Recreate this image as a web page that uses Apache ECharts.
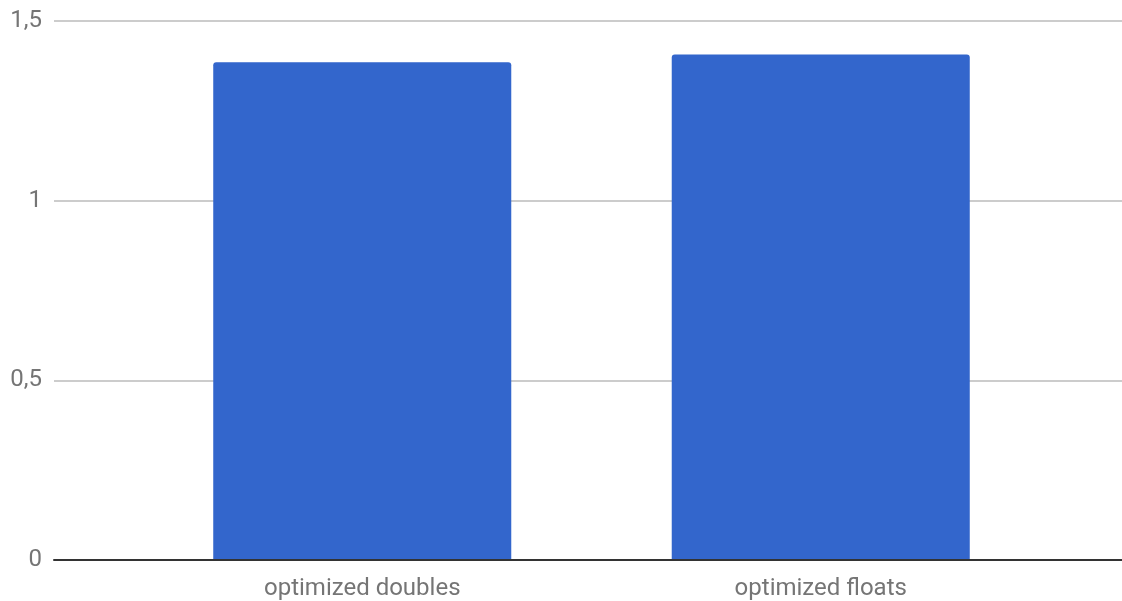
<!DOCTYPE html>
<html>
<head>
<meta charset="utf-8">
<script src="https://cdn.jsdelivr.net/npm/echarts@6/dist/echarts.min.js"></script>
<style>
  html, body { margin: 0; padding: 0; background: #ffffff; }
  #chart { width: 1122px; height: 601px; }
</style>
</head>
<body>
<div id="chart"></div>
<script>
// Benchmark results
const categories = ['optimized doubles', 'optimized floats'];
const values = [1.385, 1.407];
const yTicks = { min: 0, max: 1.5, interval: 0.5 };

const textColor = '#757575';
const fontFamily = 'Roboto, "Noto Sans", sans-serif';

const chart = echarts.init(document.getElementById('chart'), null, { renderer: 'canvas' });

chart.setOption({
  animation: false,
  backgroundColor: '#ffffff',
  grid: [
    // full-width frame: gridlines, value labels, baseline
    { left: 54, right: 0, top: 21, bottom: 41, containLabel: false },
    // inner band holding the bars and category labels
    { left: 133, right: 72, top: 21, bottom: 41, containLabel: false }
  ],
  xAxis: [
    {
      type: 'category', gridIndex: 0, data: [''],
      axisLine: { show: true, lineStyle: { color: '#333333', width: 2 } },
      axisTick: { show: false }, axisLabel: { show: false }, splitLine: { show: false },
      z: 5
    },
    {
      type: 'category', gridIndex: 1, data: categories,
      axisLine: { show: false }, axisTick: { show: false },
      axisLabel: { color: textColor, fontSize: 24, fontFamily: fontFamily, margin: 17 }
    }
  ],
  yAxis: [
    {
      type: 'value', gridIndex: 0,
      min: yTicks.min, max: yTicks.max, interval: yTicks.interval,
      axisLine: { show: false }, axisTick: { show: false },
      axisLabel: {
        color: textColor, fontSize: 24, fontFamily: fontFamily, margin: 12,
        formatter: v => String(v).replace('.', ',')
      },
      splitLine: { show: true, lineStyle: { color: '#cccccc', width: 2 } }
    },
    {
      type: 'value', gridIndex: 1,
      min: yTicks.min, max: yTicks.max, interval: yTicks.interval,
      show: false, splitLine: { show: false }
    }
  ],
  series: [
    {
      type: 'bar', xAxisIndex: 1, yAxisIndex: 1,
      data: values, barWidth: '65%',
      itemStyle: { color: '#3366cc', borderRadius: [3, 3, 0, 0] },
      z: 3
    }
  ]
});
</script>
</body>
</html>
